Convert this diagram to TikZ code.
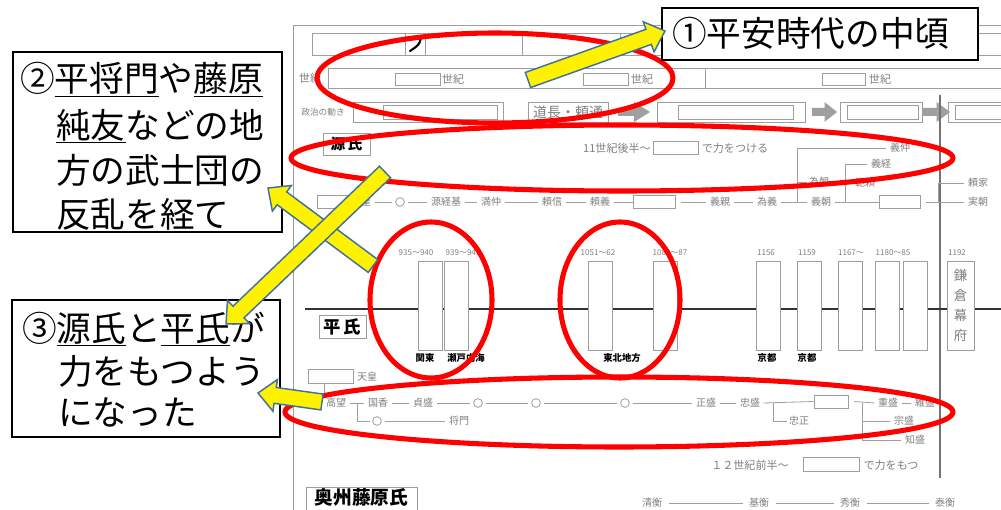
\documentclass[tikz,border=0pt]{standalone}
\usepackage{fontspec}
\setmainfont{Noto Sans CJK JP}
\usetikzlibrary{calc}
\definecolor{arrowblue}{HTML}{41719C}
\definecolor{wsgray}{gray}{0.5}
\definecolor{wsline}{gray}{0.62}
\newcommand\yarrow[2]{%
  \coordinate (tmpH) at ($(#2)!13pt!(#1)$);
  \draw[yarr] ($(#1)!6pt!90:(#2)$) -- ($(tmpH)!6pt!-90:(#1)$) -- ($(tmpH)!12pt!-90:(#1)$) -- (#2) -- ($(tmpH)!12pt!90:(#1)$) -- ($(tmpH)!6pt!90:(#1)$) -- ($(#1)!6pt!-90:(#2)$) -- cycle;}
\begin{document}
\begin{tikzpicture}[x=0.75pt,y=-0.75pt,
  wl/.style={draw=wsline, line width=0.6pt},
  ln/.style={draw=wsline, line width=0.6pt, shorten <=2.5pt, shorten >=2.5pt},
  gt/.style={text=wsgray, font=\fontsize{7.5}{8}\selectfont, inner sep=0pt},
  st/.style={text=wsgray, font=\fontsize{8.3}{9}\selectfont, inner sep=0pt},
  yt/.style={text=wsgray, font=\fontsize{6}{7}\selectfont, inner sep=0pt},
  bl/.style={text=black, font=\fontsize{7}{8}\selectfont\bfseries, inner sep=0pt},
  circ/.style={circle, draw=wsline, line width=0.6pt, minimum size=6.5pt, inner sep=0pt},
  sbox/.style={draw=wsline, line width=0.6pt, fill=white, inner sep=0pt, minimum width=#1},
  tbox/.style={draw=wsline, line width=0.6pt, fill=white, inner sep=0pt, minimum width=18pt, minimum height=66.75pt},
  redE/.style={draw=red, line width=3.8pt},
  yarr/.style={fill=yellow, draw=arrowblue, line width=1.1pt, line join=miter},
  note/.style={draw=black, line width=1pt, fill=white, inner sep=0pt},
  nt/.style={font=\fontsize{26}{34}\selectfont, inner sep=0pt, anchor=base west},
]
\clip (0,0) rectangle (1001,510);
\fill[white] (0,0) rectangle (1001,510);

% ---------- worksheet frame ----------
\draw[wl] (293,25) -- (1001,25);
\draw[wl] (293,25) -- (293,510);
% row 1
\draw[wl] (312,33) rectangle (405,55) (405,33) rectangle (425,55) (425,33) rectangle (522,55)
          (522,33) rectangle (620,55) (620,33) rectangle (638,55) (638,33) rectangle (1010,55);
\draw[line width=1.6pt, line cap=round] (410,38) -- (421,38) .. controls (419,45) .. (410,51);
% row 2
\draw[wl] (328,68) rectangle (1010,88) (705,68) -- (705,88);
\draw[wl] (395,73) rectangle (440,85) (583,73) rectangle (628,85) (822,73) rectangle (865,85);
\node[st] (c0) at (310,78) {世紀};
\node[st] (c1) at (453,79) {世紀};
\node[st] (c2) at (642,79) {世紀};
\node[st] (c3) at (880,79) {世紀};
% row 3
\node[text=wsgray, font=\fontsize{6.5}{7}\selectfont, inner sep=0pt] (pol) at (323,112) {政治の動き};
\draw[wl] (353,102) rectangle (503,122) (383,105) rectangle (497,119);
\draw[wl] (528,102) rectangle (608,122);
\draw[wl] (657,102) rectangle (805,122) (678,105) rectangle (793,119);
\draw[wl] (840,102) rectangle (922,122) (847,105) rectangle (918,119);
\draw[wl] (948,102) rectangle (1010,122) (955,105) rectangle (1010,119);
\node[text=wsgray, font=\fontsize{10.5}{11}\selectfont, inner sep=0pt] (mich) at (568,112) {道長・頼通};
\foreach \a/\b in {618/650, 812/837, 923/950}{
  \pgfmathsetmacro\m{\a+0.5*(\b-\a)}
  \fill[gray!75] (\a,108) -- (\m,108) -- (\m,102) -- (\b,112) -- (\m,122) -- (\m,116) -- (\a,116) -- cycle;
}
% vertical divider
\draw[black!55, line width=1.1pt] (940,95) -- (940,478);

% ---------- Genji ----------
\node[draw=wsline, line width=0.6pt, minimum width=35.25pt, minimum height=16.5pt, inner sep=0pt,
      font=\fontsize{11}{12}\selectfont\bfseries] (gen) at (346.5,144) {源\,氏};
\node[st] (n11) at (617,148) {11世紀後半～};
\node[sbox=33.75pt, minimum height=9.75pt] (nb1) at (675.5,147.5) {};
\node[st] (n12) at (735,148) {で力をつける};

\node[sbox=30pt, minimum height=9.75pt] (gb0) at (337,202) {};
\node[gt] (gtn) at (361,202) {天皇};
\node[circ] (gc1) at (400,202) {};
\node[gt] (g1) at (446,202) {源経基};
\node[gt] (g2) at (491,202) {満仲};
\node[gt] (g3) at (552,202) {頼信};
\node[gt] (g4) at (600,202) {頼義};
\node[sbox=31.5pt, minimum height=9.75pt] (gb1) at (654,202) {};
\node[gt] (g5) at (720,202) {義親};
\node[gt] (g6) at (767,202) {為義};
\node[gt] (g7) at (821,202) {義朝};
\node[gt] (g8) at (819,182) {為朝};
\node[gt] (g9) at (900,148) {義仲};
\node[gt] (g10) at (881,164) {義経};
\node[gt] (g11) at (865,183) {範頼};
\node[sbox=30.75pt, minimum height=9.75pt] (gb2) at (899.5,202) {};
\node[gt] (g12) at (978,183) {頼家};
\node[gt] (g13) at (978,202) {実朝};
\foreach \p/\q in {gtn/gc1, gc1/g1, g1/g2, g2/g3, g3/g4, g5/g6}
  \draw[ln] (\p) -- (\q);
\draw[wl] ([xshift=2.5pt]g4.east) -- (gb1.west);
\draw[wl] (gb1.east) ++(6,0) -- ([xshift=-2.5pt]g5.west);
\coordinate (gk1) at (797,202);
\coordinate (gk2) at (845,202);
\coordinate (gk3) at (938,202);
\draw[wl] ([xshift=2.5pt]g6.east) -- ([xshift=-2.5pt]g7.west);
\draw[wl] (gk1) -- (gk1 |- g9) -- ([xshift=-2.5pt]g9.west);
\draw[wl] (gk1 |- g8) -- ([xshift=-1.5pt]g8.west);
\draw[wl] ([xshift=2.5pt]g7.east) -- (gb2.west);
\draw[wl] (gk2) -- (gk2 |- g10) -- ([xshift=-2.5pt]g10.west);
\draw[wl] (gk2 |- g11) -- ([xshift=-1.5pt]g11.west);
\draw[wl] (gb2.east) ++(6,0) -- ([xshift=-2.5pt]g13.west);
\draw[wl] (gk3) -- (gk3 |- g12) -- ([xshift=-2.5pt]g12.west);

% ---------- timeline ----------
\draw[black!80, line width=0.9pt] (305,309) -- (1001,309);
\node[tbox] (t1) at (430,305.5) {};
\node[tbox] (t2) at (456.5,305.5) {};
\node[tbox] (t3) at (600.5,305.5) {};
\node[tbox] (t4) at (665,305.5) {};
\node[tbox] (t5) at (768,305.5) {};
\node[tbox] (t6) at (809,305.5) {};
\node[tbox] (t7) at (850,305.5) {};
\node[tbox] (t8) at (887,305.5) {};
\node[tbox] (t9) at (915,305.5) {};
\node[tbox, minimum width=20.25pt, align=center, text=wsgray,
      font=\fontsize{10}{15}\selectfont] (t10) at (960.5,305.5) {鎌\\倉\\幕\\府};
\node[yt] (y1) at (416,253) {935～940};
\node[yt] (y2) at (463,253) {939～941};
\node[yt] (y3) at (598,253) {1051～62};
\node[yt] (y4) at (670,253) {1083～87};
\node[yt] (y5) at (766,253) {1156};
\node[yt] (y6) at (807,253) {1159};
\node[yt] (y7) at (851,253) {1167～};
\node[yt] (y8) at (893,253) {1180～85};
\node[yt] (y9) at (957,253) {1192};
\node[bl] (l1) at (425,358) {関東};
\node[bl] (l2) at (466,358) {瀬戸内海};
\node[bl] (l3) at (622,358) {東北地方};
\node[bl] (l4) at (767,358) {京都};
\node[bl] (l5) at (807,358) {京都};

% ---------- Heike ----------
\node[draw=wsline, line width=0.6pt, minimum width=35.25pt, minimum height=17.25pt, inner sep=0pt,
      font=\fontsize{13}{14}\selectfont\bfseries] (hei) at (342.5,326.5) {平\,氏};
\node[sbox=33.75pt, minimum height=10.5pt] (hb0) at (330.5,376) {};
\node[gt] (htn) at (367,377) {天皇};
\node[gt] (h0) at (336,403) {高望};
\node[gt] (h1) at (378,403) {国香};
\node[gt] (h2) at (423,403) {貞盛};
\node[circ] (hc1) at (478,403) {};
\node[circ] (hc2) at (536,403) {};
\node[circ] (hc3) at (625,403) {};
\node[gt] (h3) at (706,403) {正盛};
\node[gt] (h4) at (750,403) {忠盛};
\node[sbox=25.5pt, minimum height=9.75pt] (hb1) at (831,401.5) {};
\node[gt] (h5) at (799,421) {忠正};
\node[gt] (h6) at (888,403) {重盛};
\node[gt] (h7) at (925,403) {維盛};
\node[gt] (h8) at (904,421) {宗盛};
\node[gt] (h9) at (915,440) {知盛};
\node[circ] (hc4) at (377,421) {};
\node[gt] (h10) at (459,421) {将門};
\draw[wl] (hb0.south west) ++(17,0) -- ++(0,10);
\foreach \p/\q in {h0/h1, h1/h2, h2/hc1, hc1/hc2, hc2/hc3, hc3/h3, h3/h4, h6/h7, hc4/h10}
  \draw[ln] (\p) -- (\q);
\draw[wl] ([xshift=2.5pt]h4.east) -- (hb1.west);
\coordinate (hk0) at (357,403);
\coordinate (hk1) at (773,403);
\coordinate (hk2) at (862,403);
\draw[wl] (hk0) -- (hk0 |- hc4) -- ([xshift=-1.5pt]hc4.west);
\draw[wl] (hk1) -- (hk1 |- h5) -- ([xshift=-1.5pt]h5.west);
\draw[wl] (hb1.east) ++(6,0) -- ([xshift=-2.5pt]h6.west);
\draw[wl] (hk2) -- (hk2 |- h9) -- ([xshift=-2.5pt]h9.west);
\draw[wl] (hk2 |- h8) -- ([xshift=-2.5pt]h8.west);
\node[st] (n21) at (750,465) {１２世紀前半～};
\node[sbox=42pt, minimum height=10.5pt] (nb2) at (831,464) {};
\node[st] (n22) at (891,465) {で力をもつ};

% ---------- Oshu Fujiwara ----------
\draw[wl] (306,487) rectangle (417,525);
\node[inner sep=0pt, font=\fontsize{14}{15}\selectfont\bfseries] (osh) at (361.5,497.5) {奥州藤原氏};
\node[gt] (o1) at (652,503) {清衡};
\node[gt] (o2) at (759,503) {基衡};
\node[gt] (o3) at (850,503) {秀衡};
\node[gt] (o4) at (945,503) {泰衡};
\foreach \p/\q in {o1/o2, o2/o3, o3/o4}
  \draw[ln, shorten <=5pt, shorten >=4pt] (\p) -- (\q);

% ---------- red ellipses ----------
\draw[redE] (495,78) ellipse [x radius=178, y radius=45];
\draw[redE] (622,158) ellipse [x radius=331, y radius=33];
\draw[redE] (431,300) ellipse [x radius=61, y radius=78];
\draw[redE] (620,300) ellipse [x radius=60, y radius=78];
\draw[redE] (619,412) ellipse [x radius=334, y radius=35];

% ---------- annotation boxes ----------
\node[note, minimum width=237pt, minimum height=39pt] (b1) at (820,34) {};
\node[nt] (t1txt) at (672,47) {①平安時代の中頃};
\node[note, minimum width=201.75pt, minimum height=135pt] (b2) at (147.5,142) {};
\node[nt] (t2a) at (20,92) {②\underline{平将門}や\underline{藤原}};
\node[nt] (t2b) at (56,138) {\underline{純友}などの地};
\node[nt] (t2c) at (56,184) {方の武士団の};
\node[nt] (t2d) at (56,228) {反乱を経て};
\node[note, minimum width=201pt, minimum height=102.75pt] (b3) at (146,368.5) {};
\node[nt] (t3a) at (22,341) {③\underline{源氏}と\underline{平氏}が};
\node[nt] (t3b) at (58,384) {力をもつよう};
\node[nt] (t3c) at (58,425) {になった};

% ---------- yellow arrows ----------
\coordinate (a1s) at (528,80);  \coordinate (a1e) at (665,31);
\coordinate (aBs) at (373,266); \coordinate (aBe) at (268,188);
\coordinate (aAs) at (385,172); \coordinate (aAe) at (226,324);
\coordinate (aCs) at (322,402); \coordinate (aCe) at (258,393);
\yarrow{a1s}{a1e}
\yarrow{aBs}{aBe}
\yarrow{aAs}{aAe}
\yarrow{aCs}{aCe}
\end{tikzpicture}
\end{document}
